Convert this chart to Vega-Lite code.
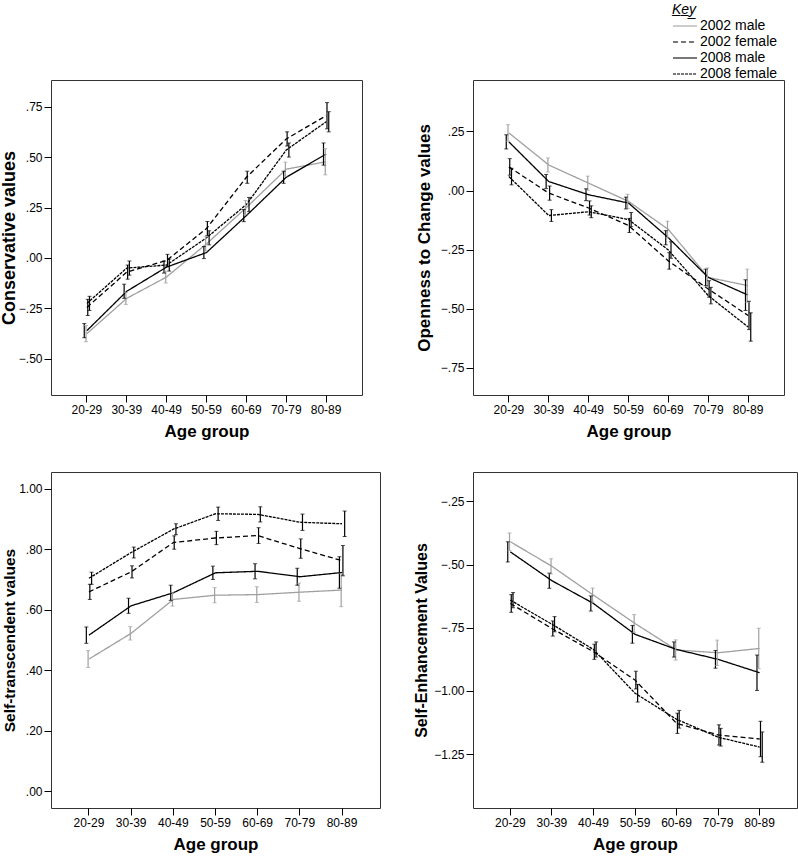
{
  "$schema": "https://vega.github.io/schema/vega-lite/v6.json",
  "autosize": {"type": "pad"},
  "padding": {"left": -1, "top": 3, "right": 5, "bottom": 0},
  "background": "white",
  "config": {
    "font": "Liberation Sans",
    "view": {"stroke": "#333", "strokeWidth": 1},
    "axis": {"grid": false, "domain": false, "tickColor": "#000", "tickSize": 7, "labelFontSize": 12, "labelColor": "#000", "titleFontSize": 17, "titleFontWeight": "bold", "titleColor": "#000", "labelPadding": 2},
    "axisX": {"labelAngle": 0, "titlePadding": 8},
    "legend": {
      "orient": "none", "legendX": 621, "legendY": -77,
      "symbolType": "stroke", "symbolSize": 576, "symbolStrokeWidth": 1.5, "clipHeight": 14, "rowPadding": 2,
      "labelFontSize": 14, "labelColor": "#000", "labelOffset": 2,
      "titleFontSize": 14, "titleFontStyle": "italic", "titleFontWeight": "normal", "titleColor": "#000", "titlePadding": 2
    }
  },
  "datasets": {
    "d": [
      {"panel": "P1", "series": "2002 male", "age": "20-29", "mean": -0.375, "lo": -0.415, "hi": -0.335},
      {"panel": "P1", "series": "2002 male", "age": "30-39", "mean": -0.2, "lo": -0.23, "hi": -0.17},
      {"panel": "P1", "series": "2002 male", "age": "40-49", "mean": -0.094, "lo": -0.124, "hi": -0.064},
      {"panel": "P1", "series": "2002 male", "age": "50-59", "mean": 0.07, "lo": 0.035, "hi": 0.105},
      {"panel": "P1", "series": "2002 male", "age": "60-69", "mean": 0.25, "lo": 0.215, "hi": 0.285},
      {"panel": "P1", "series": "2002 male", "age": "70-79", "mean": 0.44, "lo": 0.405, "hi": 0.475},
      {"panel": "P1", "series": "2002 male", "age": "80-89", "mean": 0.477, "lo": 0.412, "hi": 0.542},
      {"panel": "P1", "series": "2002 female", "age": "20-29", "mean": -0.245, "lo": -0.285, "hi": -0.205},
      {"panel": "P1", "series": "2002 female", "age": "30-39", "mean": -0.07, "lo": -0.105, "hi": -0.035},
      {"panel": "P1", "series": "2002 female", "age": "40-49", "mean": -0.012, "lo": -0.042, "hi": 0.018},
      {"panel": "P1", "series": "2002 female", "age": "50-59", "mean": 0.146, "lo": 0.111, "hi": 0.181},
      {"panel": "P1", "series": "2002 female", "age": "60-69", "mean": 0.4, "lo": 0.37, "hi": 0.43},
      {"panel": "P1", "series": "2002 female", "age": "70-79", "mean": 0.59, "lo": 0.555, "hi": 0.625},
      {"panel": "P1", "series": "2002 female", "age": "80-89", "mean": 0.705, "lo": 0.64, "hi": 0.77},
      {"panel": "P1", "series": "2008 male", "age": "20-29", "mean": -0.36, "lo": -0.395, "hi": -0.325},
      {"panel": "P1", "series": "2008 male", "age": "30-39", "mean": -0.165, "lo": -0.2, "hi": -0.13},
      {"panel": "P1", "series": "2008 male", "age": "40-49", "mean": -0.045, "lo": -0.075, "hi": -0.015},
      {"panel": "P1", "series": "2008 male", "age": "50-59", "mean": 0.027, "lo": -0.003, "hi": 0.057},
      {"panel": "P1", "series": "2008 male", "age": "60-69", "mean": 0.21, "lo": 0.18, "hi": 0.24},
      {"panel": "P1", "series": "2008 male", "age": "70-79", "mean": 0.4, "lo": 0.37, "hi": 0.43},
      {"panel": "P1", "series": "2008 male", "age": "80-89", "mean": 0.515, "lo": 0.46, "hi": 0.57},
      {"panel": "P1", "series": "2008 female", "age": "20-29", "mean": -0.225, "lo": -0.26, "hi": -0.19},
      {"panel": "P1", "series": "2008 female", "age": "30-39", "mean": -0.05, "lo": -0.085, "hi": -0.015},
      {"panel": "P1", "series": "2008 female", "age": "40-49", "mean": -0.035, "lo": -0.065, "hi": -0.005},
      {"panel": "P1", "series": "2008 female", "age": "50-59", "mean": 0.1, "lo": 0.065, "hi": 0.135},
      {"panel": "P1", "series": "2008 female", "age": "60-69", "mean": 0.265, "lo": 0.23, "hi": 0.3},
      {"panel": "P1", "series": "2008 female", "age": "70-79", "mean": 0.535, "lo": 0.5, "hi": 0.57},
      {"panel": "P1", "series": "2008 female", "age": "80-89", "mean": 0.675, "lo": 0.625, "hi": 0.725},

      {"panel": "P2", "series": "2002 male", "age": "20-29", "mean": 0.244, "lo": 0.209, "hi": 0.279},
      {"panel": "P2", "series": "2002 male", "age": "30-39", "mean": 0.108, "lo": 0.078, "hi": 0.138},
      {"panel": "P2", "series": "2002 male", "age": "40-49", "mean": 0.031, "lo": 0.001, "hi": 0.061},
      {"panel": "P2", "series": "2002 male", "age": "50-59", "mean": -0.046, "lo": -0.076, "hi": -0.016},
      {"panel": "P2", "series": "2002 male", "age": "60-69", "mean": -0.165, "lo": -0.2, "hi": -0.13},
      {"panel": "P2", "series": "2002 male", "age": "70-79", "mean": -0.368, "lo": -0.408, "hi": -0.328},
      {"panel": "P2", "series": "2002 male", "age": "80-89", "mean": -0.403, "lo": -0.473, "hi": -0.333},
      {"panel": "P2", "series": "2002 female", "age": "20-29", "mean": 0.1, "lo": 0.065, "hi": 0.135},
      {"panel": "P2", "series": "2002 female", "age": "30-39", "mean": -0.011, "lo": -0.041, "hi": 0.019},
      {"panel": "P2", "series": "2002 female", "age": "40-49", "mean": -0.074, "lo": -0.104, "hi": -0.044},
      {"panel": "P2", "series": "2002 female", "age": "50-59", "mean": -0.148, "lo": -0.178, "hi": -0.118},
      {"panel": "P2", "series": "2002 female", "age": "60-69", "mean": -0.298, "lo": -0.333, "hi": -0.263},
      {"panel": "P2", "series": "2002 female", "age": "70-79", "mean": -0.417, "lo": -0.452, "hi": -0.382},
      {"panel": "P2", "series": "2002 female", "age": "80-89", "mean": -0.529, "lo": -0.589, "hi": -0.469},
      {"panel": "P2", "series": "2008 male", "age": "20-29", "mean": 0.206, "lo": 0.176, "hi": 0.236},
      {"panel": "P2", "series": "2008 male", "age": "30-39", "mean": 0.038, "lo": 0.008, "hi": 0.068},
      {"panel": "P2", "series": "2008 male", "age": "40-49", "mean": -0.018, "lo": -0.043, "hi": 0.007},
      {"panel": "P2", "series": "2008 male", "age": "50-59", "mean": -0.053, "lo": -0.078, "hi": -0.028},
      {"panel": "P2", "series": "2008 male", "age": "60-69", "mean": -0.2, "lo": -0.23, "hi": -0.17},
      {"panel": "P2", "series": "2008 male", "age": "70-79", "mean": -0.368, "lo": -0.403, "hi": -0.333},
      {"panel": "P2", "series": "2008 male", "age": "80-89", "mean": -0.443, "lo": -0.508, "hi": -0.378},
      {"panel": "P2", "series": "2008 female", "age": "20-29", "mean": 0.059, "lo": 0.024, "hi": 0.094},
      {"panel": "P2", "series": "2008 female", "age": "30-39", "mean": -0.106, "lo": -0.131, "hi": -0.081},
      {"panel": "P2", "series": "2008 female", "age": "40-49", "mean": -0.09, "lo": -0.115, "hi": -0.065},
      {"panel": "P2", "series": "2008 female", "age": "50-59", "mean": -0.123, "lo": -0.153, "hi": -0.093},
      {"panel": "P2", "series": "2008 female", "age": "60-69", "mean": -0.252, "lo": -0.287, "hi": -0.217},
      {"panel": "P2", "series": "2008 female", "age": "70-79", "mean": -0.445, "lo": -0.48, "hi": -0.41},
      {"panel": "P2", "series": "2008 female", "age": "80-89", "mean": -0.578, "lo": -0.638, "hi": -0.518},

      {"panel": "P3", "series": "2002 male", "age": "20-29", "mean": 0.437, "lo": 0.409, "hi": 0.465},
      {"panel": "P3", "series": "2002 male", "age": "30-39", "mean": 0.522, "lo": 0.5, "hi": 0.544},
      {"panel": "P3", "series": "2002 male", "age": "40-49", "mean": 0.634, "lo": 0.612, "hi": 0.656},
      {"panel": "P3", "series": "2002 male", "age": "50-59", "mean": 0.648, "lo": 0.623, "hi": 0.673},
      {"panel": "P3", "series": "2002 male", "age": "60-69", "mean": 0.65, "lo": 0.624, "hi": 0.676},
      {"panel": "P3", "series": "2002 male", "age": "70-79", "mean": 0.658, "lo": 0.628, "hi": 0.688},
      {"panel": "P3", "series": "2002 male", "age": "80-89", "mean": 0.665, "lo": 0.61, "hi": 0.72},
      {"panel": "P3", "series": "2002 female", "age": "20-29", "mean": 0.659, "lo": 0.634, "hi": 0.684},
      {"panel": "P3", "series": "2002 female", "age": "30-39", "mean": 0.725, "lo": 0.705, "hi": 0.745},
      {"panel": "P3", "series": "2002 female", "age": "40-49", "mean": 0.822, "lo": 0.8, "hi": 0.844},
      {"panel": "P3", "series": "2002 female", "age": "50-59", "mean": 0.837, "lo": 0.815, "hi": 0.859},
      {"panel": "P3", "series": "2002 female", "age": "60-69", "mean": 0.845, "lo": 0.819, "hi": 0.871},
      {"panel": "P3", "series": "2002 female", "age": "70-79", "mean": 0.802, "lo": 0.77, "hi": 0.834},
      {"panel": "P3", "series": "2002 female", "age": "80-89", "mean": 0.762, "lo": 0.712, "hi": 0.812},
      {"panel": "P3", "series": "2008 male", "age": "20-29", "mean": 0.516, "lo": 0.489, "hi": 0.543},
      {"panel": "P3", "series": "2008 male", "age": "30-39", "mean": 0.613, "lo": 0.588, "hi": 0.638},
      {"panel": "P3", "series": "2008 male", "age": "40-49", "mean": 0.656, "lo": 0.631, "hi": 0.681},
      {"panel": "P3", "series": "2008 male", "age": "50-59", "mean": 0.722, "lo": 0.7, "hi": 0.744},
      {"panel": "P3", "series": "2008 male", "age": "60-69", "mean": 0.727, "lo": 0.702, "hi": 0.752},
      {"panel": "P3", "series": "2008 male", "age": "70-79", "mean": 0.709, "lo": 0.681, "hi": 0.737},
      {"panel": "P3", "series": "2008 male", "age": "80-89", "mean": 0.723, "lo": 0.671, "hi": 0.775},
      {"panel": "P3", "series": "2008 female", "age": "20-29", "mean": 0.704, "lo": 0.684, "hi": 0.724},
      {"panel": "P3", "series": "2008 female", "age": "30-39", "mean": 0.789, "lo": 0.771, "hi": 0.807},
      {"panel": "P3", "series": "2008 female", "age": "40-49", "mean": 0.866, "lo": 0.848, "hi": 0.884},
      {"panel": "P3", "series": "2008 female", "age": "50-59", "mean": 0.917, "lo": 0.895, "hi": 0.939},
      {"panel": "P3", "series": "2008 female", "age": "60-69", "mean": 0.915, "lo": 0.89, "hi": 0.94},
      {"panel": "P3", "series": "2008 female", "age": "70-79", "mean": 0.889, "lo": 0.862, "hi": 0.916},
      {"panel": "P3", "series": "2008 female", "age": "80-89", "mean": 0.884, "lo": 0.842, "hi": 0.926},

      {"panel": "P4", "series": "2002 male", "age": "20-29", "mean": -0.41, "lo": -0.445, "hi": -0.375},
      {"panel": "P4", "series": "2002 male", "age": "30-39", "mean": -0.507, "lo": -0.537, "hi": -0.477},
      {"panel": "P4", "series": "2002 male", "age": "40-49", "mean": -0.621, "lo": -0.649, "hi": -0.593},
      {"panel": "P4", "series": "2002 male", "age": "50-59", "mean": -0.733, "lo": -0.768, "hi": -0.698},
      {"panel": "P4", "series": "2002 male", "age": "60-69", "mean": -0.838, "lo": -0.878, "hi": -0.798},
      {"panel": "P4", "series": "2002 male", "age": "70-79", "mean": -0.849, "lo": -0.899, "hi": -0.799},
      {"panel": "P4", "series": "2002 male", "age": "80-89", "mean": -0.832, "lo": -0.912, "hi": -0.752},
      {"panel": "P4", "series": "2002 female", "age": "20-29", "mean": -0.654, "lo": -0.689, "hi": -0.619},
      {"panel": "P4", "series": "2002 female", "age": "30-39", "mean": -0.753, "lo": -0.783, "hi": -0.723},
      {"panel": "P4", "series": "2002 female", "age": "40-49", "mean": -0.845, "lo": -0.875, "hi": -0.815},
      {"panel": "P4", "series": "2002 female", "age": "50-59", "mean": -0.957, "lo": -0.992, "hi": -0.922},
      {"panel": "P4", "series": "2002 female", "age": "60-69", "mean": -1.128, "lo": -1.168, "hi": -1.088},
      {"panel": "P4", "series": "2002 female", "age": "70-79", "mean": -1.174, "lo": -1.214, "hi": -1.134},
      {"panel": "P4", "series": "2002 female", "age": "80-89", "mean": -1.19, "lo": -1.26, "hi": -1.12},
      {"panel": "P4", "series": "2008 male", "age": "20-29", "mean": -0.45, "lo": -0.49, "hi": -0.41},
      {"panel": "P4", "series": "2008 male", "age": "30-39", "mean": -0.564, "lo": -0.594, "hi": -0.534},
      {"panel": "P4", "series": "2008 male", "age": "40-49", "mean": -0.654, "lo": -0.684, "hi": -0.624},
      {"panel": "P4", "series": "2008 male", "age": "50-59", "mean": -0.776, "lo": -0.811, "hi": -0.741},
      {"panel": "P4", "series": "2008 male", "age": "60-69", "mean": -0.836, "lo": -0.866, "hi": -0.806},
      {"panel": "P4", "series": "2008 male", "age": "70-79", "mean": -0.875, "lo": -0.91, "hi": -0.84},
      {"panel": "P4", "series": "2008 male", "age": "80-89", "mean": -0.928, "lo": -0.998, "hi": -0.858},
      {"panel": "P4", "series": "2008 female", "age": "20-29", "mean": -0.641, "lo": -0.671, "hi": -0.611},
      {"panel": "P4", "series": "2008 female", "age": "30-39", "mean": -0.736, "lo": -0.766, "hi": -0.706},
      {"panel": "P4", "series": "2008 female", "age": "40-49", "mean": -0.836, "lo": -0.866, "hi": -0.806},
      {"panel": "P4", "series": "2008 female", "age": "50-59", "mean": -1.009, "lo": -1.044, "hi": -0.974},
      {"panel": "P4", "series": "2008 female", "age": "60-69", "mean": -1.112, "lo": -1.147, "hi": -1.077},
      {"panel": "P4", "series": "2008 female", "age": "70-79", "mean": -1.183, "lo": -1.218, "hi": -1.148},
      {"panel": "P4", "series": "2008 female", "age": "80-89", "mean": -1.222, "lo": -1.282, "hi": -1.162}
    ]
  },
  "columns": 2,
  "spacing": {"row": 77, "column": 93},
  "bounds": "flush",
  "concat": [
    {
      "width": 311, "height": 315,
      "data": {"name": "d"},
      "transform": [{"filter": "datum.panel === 'P1'"}],
      "encoding": {
        "x": {"field": "age", "type": "ordinal", "title": "Age group", "scale": {"type": "band", "paddingInner": 1, "paddingOuter": 0.9}},
        "y": {"type": "quantitative", "scale": {"domain": [-0.679, 0.882], "nice": false, "zero": false}}
      },
      "layer": [
        {"mark": {"type": "line", "strokeWidth": 1.3},
         "encoding": {
           "y": {"field": "mean", "title": "Conservative values", "axis": {"values": [-0.5, -0.25, 0, 0.25, 0.5, 0.75], "labelExpr": "replace(format(datum.value, '.2f'), '0.', '.')", "titleFontSize": 18, "titlePadding": 0}},
           "color": {"field": "series", "type": "nominal", "title": "K\u0332e\u0332y\u0332", "scale": {"domain": ["2002 male", "2002 female", "2008 male", "2008 female"], "range": ["#a0a0a0", "#000000", "#000000", "#000000"]}},
           "strokeDash": {"field": "series", "type": "nominal", "title": "K\u0332e\u0332y\u0332", "scale": {"domain": ["2002 male", "2002 female", "2008 male", "2008 female"], "range": [[1, 0], [5, 3], [1, 0], [3, 1]]}}
         }},
        {"mark": {"type": "rule", "strokeWidth": 1.2},
         "encoding": {
           "y": {"field": "lo"}, "y2": {"field": "hi"},
           "xOffset": {"field": "series", "type": "nominal", "scale": {"type": "point", "domain": ["2008 male", "2002 male", "2002 female", "2008 female"], "range": [-3.5, 3.5]}},
           "color": {"field": "series", "type": "nominal", "title": "K\u0332e\u0332y\u0332"}
         }},
        {"mark": {"type": "tick", "size": 4, "thickness": 1},
         "encoding": {"y": {"field": "lo"}, "xOffset": {"field": "series", "type": "nominal"}, "color": {"field": "series", "type": "nominal", "title": "K\u0332e\u0332y\u0332"}}},
        {"mark": {"type": "tick", "size": 4, "thickness": 1},
         "encoding": {"y": {"field": "hi"}, "xOffset": {"field": "series", "type": "nominal"}, "color": {"field": "series", "type": "nominal", "title": "K\u0332e\u0332y\u0332"}}}
      ]
    },
    {
      "width": 311, "height": 315,
      "data": {"name": "d"},
      "transform": [{"filter": "datum.panel === 'P2'"}],
      "encoding": {
        "x": {"field": "age", "type": "ordinal", "title": "Age group", "scale": {"type": "band", "paddingInner": 1, "paddingOuter": 0.9}},
        "y": {"type": "quantitative", "scale": {"domain": [-0.866, 0.468], "nice": false, "zero": false}}
      },
      "layer": [
        {"mark": {"type": "line", "strokeWidth": 1.3},
         "encoding": {
           "y": {"field": "mean", "title": "Openness to Change values", "axis": {"values": [-0.75, -0.5, -0.25, 0, 0.25], "labelExpr": "replace(format(datum.value, '.2f'), '0.', '.')", "titleFontSize": 17, "titlePadding": 7}},
           "color": {"field": "series", "type": "nominal", "title": "K\u0332e\u0332y\u0332"},
           "strokeDash": {"field": "series", "type": "nominal", "title": "K\u0332e\u0332y\u0332"}
         }},
        {"mark": {"type": "rule", "strokeWidth": 1.2},
         "encoding": {"y": {"field": "lo"}, "y2": {"field": "hi"}, "xOffset": {"field": "series", "type": "nominal"}, "color": {"field": "series", "type": "nominal", "title": "K\u0332e\u0332y\u0332"}}},
        {"mark": {"type": "tick", "size": 4, "thickness": 1},
         "encoding": {"y": {"field": "lo"}, "xOffset": {"field": "series", "type": "nominal"}, "color": {"field": "series", "type": "nominal", "title": "K\u0332e\u0332y\u0332"}}},
        {"mark": {"type": "tick", "size": 4, "thickness": 1},
         "encoding": {"y": {"field": "hi"}, "xOffset": {"field": "series", "type": "nominal"}, "color": {"field": "series", "type": "nominal", "title": "K\u0332e\u0332y\u0332"}}}
      ]
    },
    {
      "width": 329, "height": 336,
      "data": {"name": "d"},
      "transform": [{"filter": "datum.panel === 'P3'"}],
      "encoding": {
        "x": {"field": "age", "type": "ordinal", "title": "Age group", "scale": {"type": "band", "paddingInner": 1, "paddingOuter": 0.9}},
        "y": {"type": "quantitative", "scale": {"domain": [-0.055, 1.055], "nice": false, "zero": false}}
      },
      "layer": [
        {"mark": {"type": "line", "strokeWidth": 1.3},
         "encoding": {
           "y": {"field": "mean", "title": "Self-transcendent values", "axis": {"values": [0, 0.2, 0.4, 0.6, 0.8, 1.0], "labelExpr": "replace(format(datum.value, '.2f'), '0.', '.')", "titleFontSize": 15.5, "titlePadding": 1}},
           "color": {"field": "series", "type": "nominal", "title": "K\u0332e\u0332y\u0332"},
           "strokeDash": {"field": "series", "type": "nominal", "title": "K\u0332e\u0332y\u0332"}
         }},
        {"mark": {"type": "rule", "strokeWidth": 1.2},
         "encoding": {"y": {"field": "lo"}, "y2": {"field": "hi"}, "xOffset": {"field": "series", "type": "nominal"}, "color": {"field": "series", "type": "nominal", "title": "K\u0332e\u0332y\u0332"}}},
        {"mark": {"type": "tick", "size": 4, "thickness": 1},
         "encoding": {"y": {"field": "lo"}, "xOffset": {"field": "series", "type": "nominal"}, "color": {"field": "series", "type": "nominal", "title": "K\u0332e\u0332y\u0332"}}},
        {"mark": {"type": "tick", "size": 4, "thickness": 1},
         "encoding": {"y": {"field": "hi"}, "xOffset": {"field": "series", "type": "nominal"}, "color": {"field": "series", "type": "nominal", "title": "K\u0332e\u0332y\u0332"}}}
      ]
    },
    {
      "width": 324, "height": 336,
      "data": {"name": "d"},
      "transform": [{"filter": "datum.panel === 'P4'"}],
      "encoding": {
        "x": {"field": "age", "type": "ordinal", "title": "Age group", "scale": {"type": "band", "paddingInner": 1, "paddingOuter": 0.9}},
        "y": {"type": "quantitative", "scale": {"domain": [-1.463, -0.134], "nice": false, "zero": false}}
      },
      "layer": [
        {"mark": {"type": "line", "strokeWidth": 1.3},
         "encoding": {
           "y": {"field": "mean", "title": "Self-Enhancement Values", "axis": {"values": [-1.25, -1.0, -0.75, -0.5, -0.25], "labelExpr": "replace(format(datum.value, '.2f'), '0.', '.')", "titleFontSize": 16, "titlePadding": 4}},
           "color": {"field": "series", "type": "nominal", "title": "K\u0332e\u0332y\u0332"},
           "strokeDash": {"field": "series", "type": "nominal", "title": "K\u0332e\u0332y\u0332"}
         }},
        {"mark": {"type": "rule", "strokeWidth": 1.2},
         "encoding": {"y": {"field": "lo"}, "y2": {"field": "hi"}, "xOffset": {"field": "series", "type": "nominal"}, "color": {"field": "series", "type": "nominal", "title": "K\u0332e\u0332y\u0332"}}},
        {"mark": {"type": "tick", "size": 4, "thickness": 1},
         "encoding": {"y": {"field": "lo"}, "xOffset": {"field": "series", "type": "nominal"}, "color": {"field": "series", "type": "nominal", "title": "K\u0332e\u0332y\u0332"}}},
        {"mark": {"type": "tick", "size": 4, "thickness": 1},
         "encoding": {"y": {"field": "hi"}, "xOffset": {"field": "series", "type": "nominal"}, "color": {"field": "series", "type": "nominal", "title": "K\u0332e\u0332y\u0332"}}}
      ]
    }
  ]
}
